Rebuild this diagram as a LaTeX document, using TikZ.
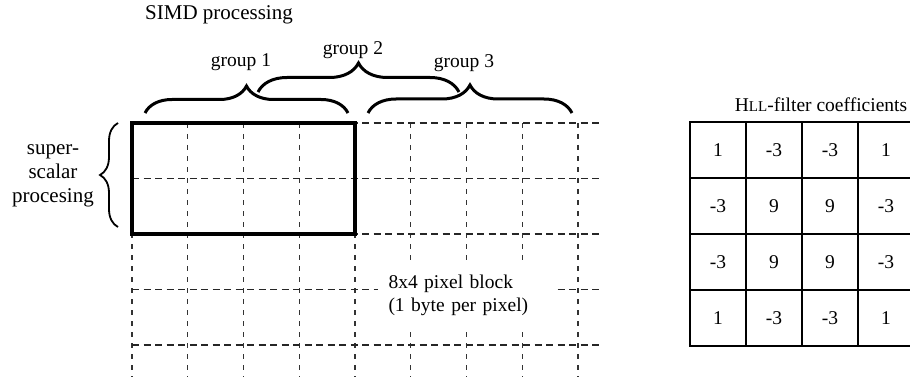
\documentclass[tikz,border=0pt]{standalone}
\usepackage{fontspec}
\setmainfont{Liberation Serif}
\usetikzlibrary{decorations.pathreplacing}
\tikzset{
  hgrid/.style={black!85, line width=1.1pt, dash pattern=on 7pt off 4.5pt},
  vgrid/.style={black!80, line width=1.1pt, dash pattern=on 5pt off 6pt},
  bracebig/.style={decorate, decoration={brace, amplitude=#1}, line width=3pt},
  lbl/.style={font=\fontsize{19.5}{23}\selectfont, inner sep=0pt},
  cell/.style={draw, line width=2pt, minimum size=56pt, inner sep=0pt, font=\fontsize{19.5}{23}\selectfont},
}
\begin{document}
\begin{tikzpicture}[x=1pt, y=-1pt]
\useasboundingbox (0,0) rectangle (910,377);
% grid
\foreach \i in {0,...,8} {
  \draw[vgrid] ({132+55.75*\i},123) -- ({132+55.75*\i},385);
}
\foreach \j in {0,...,4} {
  \draw[hgrid] (132,{123+55.5*\j}) -- (602,{123+55.5*\j});
}
% block label
\node[lbl, fill=white, text width=158pt, align=left, inner sep=10.5pt, minimum height=64pt] (blk) at (467.5,295) {8x4 pixel block\\(1 byte per pixel)};
% thick rectangle
\node[draw, line width=3.5pt, minimum width=223pt, minimum height=111pt, inner sep=0pt] (sel) at (243.5,178.5) {};
% top labels
\node[font=\fontsize{21}{25}\selectfont, inner sep=0pt] (simd) at (219,15) {SIMD processing};
\coordinate (g1a) at (145,113); \coordinate (g1b) at (348,113);
\coordinate (g2a) at (258,92);  \coordinate (g2b) at (459,92);
\coordinate (g3a) at (368,113); \coordinate (g3b) at (572,113);
\draw[bracebig=27pt] (g1a) -- (g1b);
\draw[bracebig=29pt] (g2a) -- (g2b);
\draw[bracebig=28pt] (g3a) -- (g3b);
\node[lbl] (g1) at (241,62) {group 1};
\node[lbl] (g2) at (353,50) {group 2};
\node[lbl] (g3) at (464,63) {group 3};
% left brace
\coordinate (lba) at (118,227); \coordinate (lbb) at (118,123);
\draw[decorate, decoration={brace, amplitude=18pt}, line width=1.8pt] (lba) -- (lbb);
\node[font=\fontsize{21}{24}\selectfont, align=center, inner sep=0pt] (ss) at (53,176) {super-\\scalar\\procesing};
% filter table
\node[font=\fontsize{19.5}{23}\selectfont, inner sep=0pt] (ftitle) at (821,105) {H{\fontsize{15}{18}\selectfont LL}-filter coefficients};
\foreach \r/\row in {1/{1,-3,-3,1}, 2/{-3,9,9,-3}, 3/{-3,9,9,-3}, 4/{1,-3,-3,1}} {
  \foreach \v [count=\c] in \row {
    \node[cell] (c\r\c) at ({718+56*(\c-1)},{150+56*(\r-1)}) {\v};
  }
}
\end{tikzpicture}
\end{document}
